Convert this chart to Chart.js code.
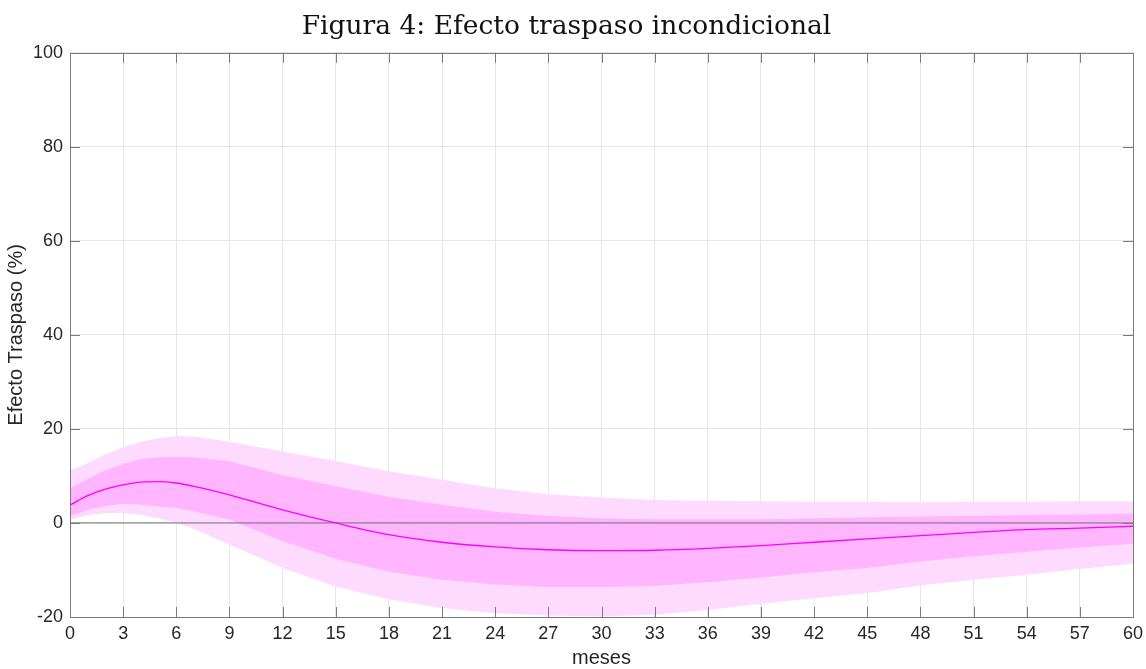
<!DOCTYPE html>
<html>
<head>
<meta charset="utf-8">
<script src="https://cdn.jsdelivr.net/npm/chart.js@4.4.1/dist/chart.umd.min.js"></script>
<style>
    html, body { margin: 0; padding: 0; background: #fff; }
    #box { width: 1146px; height: 669px; }
</style>
</head>
<body>
<div id="box"><canvas id="traspaso-chart"></canvas></div>
<script>
// meses (eje x)
const months = [0, 1, 2, 3, 4, 5, 6, 7, 9, 12, 15, 18, 21, 24, 27, 30, 33, 36, 39, 42, 45, 48, 51, 54, 57, 60];
// efecto traspaso medio
const meanValues = [3.8, 5.8, 7.2, 8.1, 8.7, 8.8, 8.5, 7.8, 6.0, 2.8, 0.0, -2.5, -4.1, -5.1, -5.7, -5.9, -5.8, -5.4, -4.8, -4.1, -3.4, -2.7, -2.0, -1.4, -1.1, -0.7];
// banda interior
const innerUpper = [7.4, 9.4, 11.2, 12.6, 13.6, 14.0, 14.1, 14.0, 13.1, 10.2, 7.8, 5.6, 3.9, 2.4, 1.5, 1.0, 0.8, 0.8, 0.8, 1.0, 1.2, 1.4, 1.5, 1.7, 1.8, 2.0];
const innerLower = [1.4, 2.8, 3.6, 4.1, 3.9, 3.5, 3.2, 2.5, 0.7, -3.9, -7.6, -10.4, -12.1, -13.1, -13.6, -13.6, -13.4, -12.6, -11.6, -10.5, -9.6, -8.2, -7.1, -6.1, -5.2, -4.4];
// banda exterior
const outerUpper = [11.1, 12.7, 14.6, 16.1, 17.3, 18.0, 18.5, 18.4, 17.3, 15.2, 13.2, 11.0, 9.2, 7.4, 6.1, 5.4, 4.9, 4.7, 4.6, 4.5, 4.5, 4.4, 4.5, 4.5, 4.6, 4.6];
const outerLower = [0.7, 1.7, 2.1, 2.1, 1.7, 1.0, 0.0, -1.3, -4.6, -9.6, -13.5, -16.2, -18.1, -19.2, -19.7, -19.9, -19.5, -18.5, -17.2, -16.0, -14.9, -13.3, -12.1, -11.0, -9.8, -8.7];

const toPoints = function (values) {
    return values.map((v, i) => ({ x: months[i], y: v }));
};

// ticks hacia dentro y caja completa (estilo matlab)
const boxPlugin = {
    id: 'boxTicks',
    afterDatasetsDraw(chart) {
        const ctx = chart.ctx;
        const area = chart.chartArea;
        const xs = chart.scales.x;
        const ys = chart.scales.y;
        const len = 10;
        ctx.save();
        ctx.strokeStyle = '#7a7a7a';
        ctx.lineWidth = 1;
        ctx.beginPath();
        xs.ticks.forEach(t => {
            const px = Math.round(xs.getPixelForValue(t.value)) + 0.5;
            ctx.moveTo(px, area.bottom);
            ctx.lineTo(px, area.bottom - len);
            ctx.moveTo(px, area.top);
            ctx.lineTo(px, area.top + len);
        });
        ys.ticks.forEach(t => {
            const py = Math.round(ys.getPixelForValue(t.value)) + 0.5;
            ctx.moveTo(area.left, py);
            ctx.lineTo(area.left + len, py);
            ctx.moveTo(area.right, py);
            ctx.lineTo(area.right - len, py);
        });
        ctx.stroke();
        ctx.strokeRect(Math.round(area.left) + 0.5, Math.round(area.top) + 0.5,
            Math.round(area.right - area.left), Math.round(area.bottom - area.top));
        ctx.restore();
    }
};

const chartBox = document.querySelector('#traspaso-chart');
new Chart(chartBox, {
    type: 'line',
    data: {
        datasets: [
            {
                label: 'media',
                data: toPoints(meanValues),
                borderColor: '#ff00ff',
                borderWidth: 1.3,
                pointRadius: 0,
                cubicInterpolationMode: 'monotone',
                fill: false
            },
            {
                label: 'cero',
                data: [{ x: 0, y: 0 }, { x: 60, y: 0 }],
                borderColor: '#6e6e6e',
                borderWidth: 1,
                pointRadius: 0,
                fill: false
            },
            {
                label: 'interior sup',
                data: toPoints(innerUpper),
                borderWidth: 0,
                borderColor: 'rgba(0,0,0,0)',
                pointRadius: 0,
                backgroundColor: '#ffb6ff',
                fill: 3
            },
            {
                label: 'interior inf',
                data: toPoints(innerLower),
                borderWidth: 0,
                borderColor: 'rgba(0,0,0,0)',
                pointRadius: 0,
                fill: false
            },
            {
                label: 'exterior sup',
                data: toPoints(outerUpper),
                borderWidth: 0,
                borderColor: 'rgba(0,0,0,0)',
                pointRadius: 0,
                backgroundColor: '#ffdaff',
                fill: 5
            },
            {
                label: 'exterior inf',
                data: toPoints(outerLower),
                borderWidth: 0,
                borderColor: 'rgba(0,0,0,0)',
                pointRadius: 0,
                fill: false
            }
        ]
    },
    options: {
        responsive: true,
        maintainAspectRatio: false,
        animation: false,
        layout: { padding: { left: 0, right: 13, top: 0, bottom: 0 } },
        plugins: {
            legend: { display: false },
            tooltip: { enabled: false },
            title: {
                display: true,
                text: 'Figura 4: Efecto traspaso incondicional',
                color: '#111',
                font: { family: '"DejaVu Serif", serif', size: 26.5, weight: 'normal' },
                padding: { top: 11, bottom: 10 }
            }
        },
        scales: {
            x: {
                type: 'linear',
                min: 0,
                max: 60,
                afterFit: s => {
                    s.height = 52;
                    s.paddingLeft = 0;
                    s.paddingRight = 0;
                },
                ticks: {
                    stepSize: 3,
                    padding: 6,
                    color: '#262626',
                    font: { family: '"Liberation Sans", Arial, sans-serif', size: 18 },
                    maxRotation: 0
                },
                grid: { color: '#e6e6e6', drawTicks: false },
                border: { display: false },
                title: {
                    display: true,
                    text: 'meses',
                    color: '#262626',
                    padding: { top: 0, bottom: -1 },
                    font: { family: '"Liberation Sans", Arial, sans-serif', size: 20 }
                }
            },
            y: {
                min: -20,
                max: 100,
                afterFit: s => { s.width = 70; },
                ticks: {
                    stepSize: 20,
                    padding: 7,
                    color: '#262626',
                    font: { family: '"Liberation Sans", Arial, sans-serif', size: 18 }
                },
                grid: { color: '#e6e6e6', drawTicks: false },
                border: { display: false },
                title: {
                    display: true,
                    text: 'Efecto Traspaso (%)',
                    color: '#262626',
                    padding: { top: 4, bottom: 0 },
                    font: { family: '"Liberation Sans", Arial, sans-serif', size: 20 }
                }
            }
        }
    },
    plugins: [boxPlugin]
});
</script>
</body>
</html>
